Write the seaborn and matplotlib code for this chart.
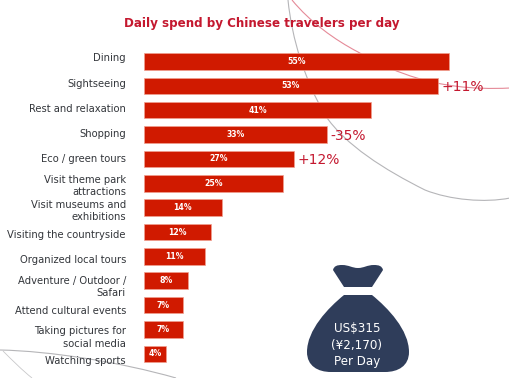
import matplotlib
matplotlib.use('Agg')
import matplotlib.pyplot as plt
import pandas as pd
import seaborn as sns
from matplotlib.patches import PathPatch
from matplotlib.path import Path
from matplotlib.transforms import Affine2D

# data
activities = ['Dining', 'Sightseeing', 'Rest and relaxation', 'Shopping', 'Eco / green tours',
              'Visit theme park\nattractions', 'Visit museums and\nexhibitions',
              'Visiting the countryside', 'Organized local tours', 'Adventure / Outdoor /\nSafari',
              'Attend cultural events', 'Taking pictures for\nsocial media', 'Watching sports']
shares = [55, 53, 41, 33, 27, 25, 14, 12, 11, 8, 7, 7, 4]
changes = {'Sightseeing': '+11%', 'Shopping': '-35%', 'Eco / green tours': '+12%'}

RED = '#d01a00'
TITLE_RED = '#c4182f'
DARK = '#33363b'
NAVY = '#2f3d5a'
W, H = 510, 378

sns.set_theme(style='white')
plt.rcParams['font.family'] = ['DejaVu Sans']

df = pd.DataFrame({'activity': activities, 'share': shares})
fig = plt.figure(figsize=(W / 100, H / 100), dpi=100, facecolor='white')

# helper: figure transform in reference pixels, origin top left
px = Affine2D().scale(1 / W, -1 / H).translate(0, 1) + fig.transFigure


def curve(points, color, lw=0.8):
    codes = [Path.MOVETO] + [Path.CURVE4] * (len(points) - 1)
    fig.add_artist(PathPatch(Path(points, codes), fc='none', ec=color, lw=lw, transform=px, zorder=-1))


# decorative lines behind the chart
curve([(292, 0), (310, 22), (335, 40), (358, 52), (380, 65), (400, 73), (417, 78),
       (440, 85), (470, 90), (510, 88)], '#e58a98')
curve([(288, 0), (292, 40), (305, 80), (325, 115), (345, 145), (385, 170), (425, 190),
       (450, 200), (485, 203), (510, 198)], '#b5b5b8')
curve([(0, 350), (50, 351), (120, 362), (176, 378)], '#b5b5b8')
curve([(3, 351), (12, 360), (22, 370), (32, 378)], '#c8c8ca', lw=0.6)

# bars
ax = fig.add_axes([144 / W, 1 - 366 / H, (W - 144) / W, (366 - 49.3) / H])
ax.patch.set_alpha(0)
sns.barplot(data=df, x='share', y='activity', orient='h', color=RED, saturation=1,
            width=0.68, edgecolor='#f0a090', linewidth=0.5, ax=ax)
ax.set_xlim(0, 66)
ax.set_ylim(12.5, -0.5)
ax.set_xlabel('')
ax.set_ylabel('')
ax.set_xticks([])
ax.set_yticks([])
sns.despine(ax=ax, left=True, bottom=True)

for i, (name, val) in enumerate(zip(activities, shares)):
    ax.text(val / 2, i, f'{val}%', color='white', fontsize=5.6, fontweight='bold', ha='center', va='center')
    if name in changes:
        ax.annotate(changes[name], (val, i), xytext=(2.5, -1), textcoords='offset points',
                    color=TITLE_RED, fontsize=10, ha='left', va='center')

# category labels sit on a slightly wider spacing than the bars
ax_lab = fig.add_axes([144 / W, 1 - 373 / H, 0.01, (373 - 44.7) / H])
ax_lab.patch.set_alpha(0)
ax_lab.set_ylim(12.5, -0.5)
ax_lab.set_yticks(range(len(activities)), activities, fontsize=7.2, color=DARK, linespacing=1.3)
ax_lab.tick_params(axis='y', length=0, pad=13)
ax_lab.set_xticks([])
sns.despine(ax=ax_lab, left=True, bottom=True)

fig.text(262 / W, 1 - 23 / H, 'Daily spend by Chinese travelers per day', color=TITLE_RED,
         fontsize=8.6, fontweight='bold', ha='center', va='center')

# money bag
neck = [(333, 270), (334, 266), (337, 265), (342, 265), (349, 265), (352, 268), (358, 268),
        (364, 268), (367, 265), (374, 265), (379, 265), (382, 266), (383, 270),
        (379, 276), (376, 281), (372, 287), (344, 287), (340, 281), (337, 276), (333, 270)]
neck_codes = [Path.MOVETO] + [Path.CURVE4] * 15 + [Path.LINETO] + [Path.CURVE4] * 3
fig.add_artist(PathPatch(Path(neck, neck_codes), fc=NAVY, ec='none', transform=px))
body = [(344, 295), (372, 295), (388, 308), (409, 330), (409, 352), (409, 366), (398, 372), (385, 372),
        (331, 372), (318, 372), (307, 366), (307, 352), (307, 330), (328, 308), (344, 295)]
body_codes = [Path.MOVETO, Path.LINETO] + [Path.CURVE4] * 6 + [Path.LINETO] + [Path.CURVE4] * 6
fig.add_artist(PathPatch(Path(body, body_codes), fc=NAVY, ec='none', transform=px))
for y, line in zip([329, 346, 362], ['US$315', '(¥2,170)', 'Per Day']):
    fig.text(357 / W, 1 - y / H, line, color='white', fontsize=8.6, ha='center', va='center')

fig.savefig('out.png', dpi=100)
